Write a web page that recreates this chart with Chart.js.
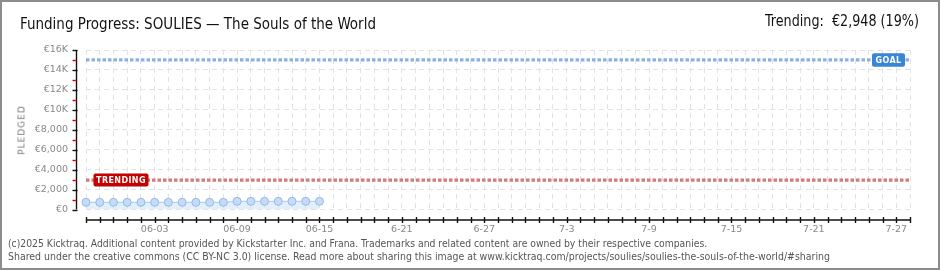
<!DOCTYPE html>
<html>
<head>
<meta charset="utf-8">
<script src="https://cdn.jsdelivr.net/npm/chart.js@4.4.1/dist/chart.umd.min.js"></script>
<style>
  html, body { margin: 0; padding: 0; background: #fff; }
  #wrap { position: relative; width: 940px; height: 270px; overflow: hidden; }
  #frame { position: absolute; left: 0; top: 0; width: 940px; height: 270px; box-sizing: border-box; border: 2px solid #8c8c8c; pointer-events: none; }
  canvas { position: absolute; left: 0; top: 0; }
  .txt { position: absolute; white-space: nowrap; font-family: "Liberation Sans Narrow", "DejaVu Sans Condensed", sans-serif; line-height: 1; }
  #title { left: 20px; top: 17px; font-size: 15px; color: #111; }
  #trend { right: 21px; top: 13px; font-size: 16.5px; color: #111; transform: scaleX(0.86); transform-origin: right center; }
  #foot1 { left: 8px; top: 238px; font-size: 10.3px; color: #555; }
  #foot2 { left: 8px; top: 251px; font-size: 10.45px; color: #555; }
  #ylab { left: 22px; top: 130px; font-family: "DejaVu Sans", sans-serif; font-size: 9px; color: #777; letter-spacing: 1px; transform: translate(-50%, -50%) rotate(-90deg); transform-origin: center; }
</style>
</head>
<body>
<div id="wrap">
  <canvas id="chart" width="940" height="270"></canvas>
  <div class="txt" id="title">Funding Progress: SOULIES — The Souls of the World</div>
  <div class="txt" id="trend">Trending:&nbsp; €2,948 (19%)</div>
  <div class="txt" id="ylab">PLEDGED</div>
  <div class="txt" id="foot1">(c)2025 Kicktraq. Additional content provided by Kickstarter Inc. and Frana. Trademarks and related content are owned by their respective companies.</div>
  <div class="txt" id="foot2">Shared under the creative commons (CC BY-NC 3.0) license. Read more about sharing this image at www.kicktraq.com/projects/soulies/soulies-the-souls-of-the-world/#sharing</div>
  <div id="frame"></div>
</div>
<script>
// days on the x axis, 05-29 through 07-28
const days = [];
for (let d = new Date(2025, 4, 29); d <= new Date(2025, 6, 28); d.setDate(d.getDate() + 1)) {
    days.push(String(d.getMonth() + 1).padStart(2, '0') + '-' + String(d.getDate()).padStart(2, '0'));
}

// pledged total per day (EUR), 05-29 .. 06-15
const pledged = [720, 720, 720, 720, 720, 720, 720, 720, 720, 720, 720, 820, 820, 820, 820, 820, 820, 820];

const goal = 15000;
const trending = 2948;

const xTickLabels = ['06-03', '06-09', '06-15', '6-21', '6-27', '7-3', '7-9', '7-15', '7-21', '7-27'];
const xTickFirst = 5;
const xTickStep = 6;
const yTickLabels = ['€0', '€2,000', '€4,000', '€6,000', '€8,000', '€10K', '€12K', '€14K', '€16K'];

const tickFont = { family: 'DejaVu Sans', size: 9.5 };

function drawTag(ctx, text, x, y, w, h, fill) {
    ctx.save();
    ctx.fillStyle = fill;
    ctx.beginPath();
    ctx.roundRect(x, y - h / 2, w, h, 2);
    ctx.fill();
    ctx.fillStyle = '#fff';
    ctx.font = 'bold 8px "DejaVu Sans"';
    ctx.letterSpacing = '0.4px';
    ctx.textAlign = 'center';
    ctx.textBaseline = 'middle';
    ctx.fillText(text, x + w / 2, y + 0.5);
    ctx.restore();
}

// axes, goal and trending markers
const overlayPlugin = {
    id: 'overlay',
    afterDraw(chart) {
        const { ctx, chartArea } = chart;
        const xs = chart.scales.x;
        const ys = chart.scales.y;
        ctx.save();

        // goal line
        const gy = ys.getPixelForValue(goal);
        ctx.strokeStyle = '#8cb1df';
        ctx.lineWidth = 3.3;
        ctx.setLineDash([3.5, 2]);
        ctx.beginPath();
        ctx.moveTo(chartArea.left, gy);
        ctx.lineTo(chartArea.right, gy);
        ctx.stroke();

        // trending line
        const ty = ys.getPixelForValue(trending);
        ctx.strokeStyle = '#d47a7a';
        ctx.beginPath();
        ctx.moveTo(chartArea.left, ty);
        ctx.lineTo(chartArea.right, ty);
        ctx.stroke();
        ctx.setLineDash([]);

        drawTag(ctx, 'GOAL', chartArea.right - 38, gy, 33, 13.5, '#3a86d6');
        drawTag(ctx, 'TRENDING', chartArea.left + 7.5, ty, 55, 13, '#c40000');

        // y axis
        const ax = chartArea.left - 9.5;
        ctx.strokeStyle = '#111';
        ctx.lineWidth = 1.4;
        ctx.beginPath();
        ctx.moveTo(ax, ys.getPixelForValue(16000));
        ctx.lineTo(ax, ys.getPixelForValue(0));
        ctx.stroke();
        for (let v = 0; v <= 16000; v += 1000) {
            const py = Math.round(ys.getPixelForValue(v)) + 0.5;
            ctx.strokeStyle = v % 2000 === 0 ? '#111' : '#e00000';
            ctx.beginPath();
            ctx.moveTo(ax - 4, py);
            ctx.lineTo(ax + (v % 2000 === 0 ? 1 : 0), py);
            ctx.stroke();
        }

        // x axis
        const bx = chartArea.bottom + 10.5;
        ctx.strokeStyle = '#111';
        ctx.beginPath();
        ctx.moveTo(chartArea.left, bx);
        ctx.lineTo(chartArea.right, bx);
        ctx.stroke();
        for (let i = 0; i < days.length; i++) {
            const px = Math.round(xs.getPixelForValue(i)) + 0.5;
            ctx.beginPath();
            ctx.moveTo(px, bx - 3);
            ctx.lineTo(px, bx + 3);
            ctx.stroke();
        }
        ctx.restore();
    },
};

new Chart(document.getElementById('chart'), {
    type: 'line',
    data: {
        labels: days,
        datasets: [
            {
                data: pledged,
                borderColor: '#a9c9ef',
                borderWidth: 1,
                backgroundColor: 'rgba(205,225,250,0.55)',
                fill: 'origin',
                pointRadius: 4,
                pointBackgroundColor: '#c4dcf7',
                pointBorderColor: '#98b8e0',
                pointBorderWidth: 1,
                tension: 0,
            },
        ],
    },
    options: {
        responsive: false,
        animation: false,
        devicePixelRatio: 1,
        layout: { padding: { left: 0, right: 30, top: 50, bottom: 0 } },
        plugins: {
            legend: { display: false },
            tooltip: { enabled: false },
        },
        scales: {
            x: {
                type: 'category',
                grid: { color: '#e3e3e3', lineWidth: 1, drawTicks: false },
                border: { display: false, dash: [5, 4] },
                ticks: {
                    autoSkip: false,
                    maxRotation: 0,
                    padding: 14,
                    color: '#888',
                    font: tickFont,
                    callback(value, index) {
                        const k = index - xTickFirst;
                        return k >= 0 && k % xTickStep === 0 ? xTickLabels[k / xTickStep] : '';
                    },
                },
                afterFit(scale) { scale.height = 60.5; },
            },
            y: {
                min: 0,
                max: 16000,
                grid: { color: '#e3e3e3', lineWidth: 1, drawTicks: false },
                border: { display: false, dash: [5, 4] },
                ticks: {
                    stepSize: 2000,
                    padding: 18,
                    color: '#888',
                    font: tickFont,
                    callback(value) { return yTickLabels[value / 2000]; },
                },
                afterFit(scale) { scale.width = 86; },
            },
        },
    },
    plugins: [overlayPlugin],
});
</script>
</body>
</html>
